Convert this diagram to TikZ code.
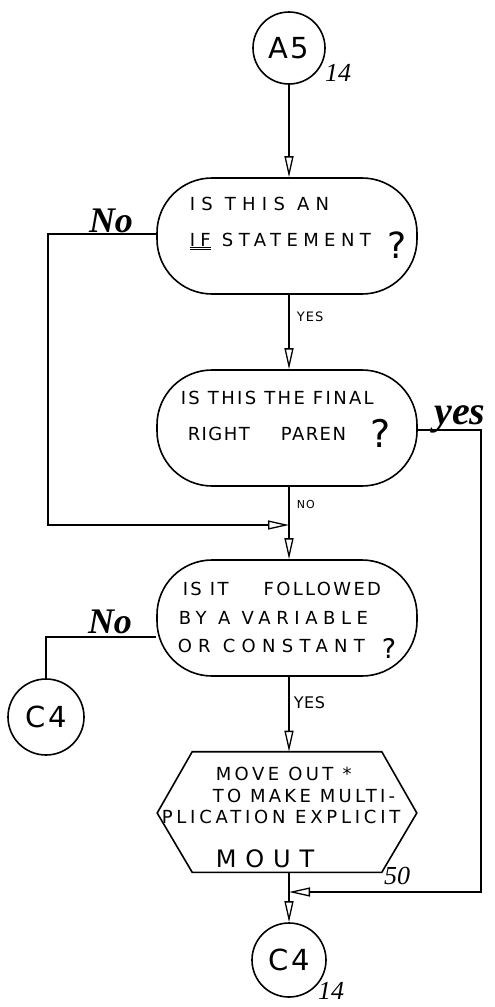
\documentclass[tikz,border=0pt]{standalone}
\usepackage{fontspec}
\setmainfont{DejaVu Sans}
\newfontfamily\hand{Liberation Serif}
\usetikzlibrary{arrows.meta}
\newcommand{\ls}[2]{\fontsize{#1}{#1}\fontspec{DejaVu Sans}[LetterSpace=#2]}
\begin{document}
\begin{tikzpicture}[x=1pt,y=-1pt,line width=1.6pt,
  arr/.style={-{Triangle[open,length=21pt,width=9pt,line width=1.3pt]}},
  circ/.style={circle,draw,inner sep=0pt,font=\ls{29}{8}},
  dec/.style={draw,rounded corners=55pt,minimum width=260pt,minimum height=116pt,inner sep=0pt},
  txt/.style={anchor=base west,inner sep=0pt},
  lbl/.style={anchor=west,inner sep=0pt},
  qm/.style={inner sep=0pt},
  cur/.style={inner sep=0pt,font=\hand\itshape\bfseries\fontsize{36}{38}\selectfont},
  num/.style={inner sep=0pt,font=\hand\itshape\fontsize{26}{28}\selectfont}]
\useasboundingbox (0,0) rectangle (495,1007);

% terminals and boxes
\node[circ,minimum size=72pt] (a5) at (289,48) {A5};
\node[num] (n14a) at (338,73) {14};

\node[dec] (d1) at (287,236) {};
\node[dec] (d2) at (287,428) {};
\node[dec] (d3) at (287,618) {};
\node[draw=none,minimum width=258pt,minimum height=119pt,inner sep=0pt] (hex) at (287,812) {};
\draw ([yshift=-1pt]hex.west) -- ([xshift=35pt]hex.north west) -- ([xshift=-35pt]hex.north east)
  -- ([yshift=-1pt]hex.east) -- ([xshift=-35pt]hex.south east) -- ([xshift=35pt]hex.south west) -- cycle;

\node[circ,minimum size=76pt] (c4l) at (46,717) {C4};
\node[circ,minimum size=74pt] (c4b) at (289,960) {C4};
\node[num] (n14b) at (331,991) {14};
\node[num] (n50) at (397,876) {50};

% texts in decision 1
\node[txt,font=\ls{18}{35}] (t1) at (189,210) {IS THIS AN};
\node[txt,font=\ls{18}{30}] (t2) at (189,246) {\underline{\underline{IF}} STATEMENT};
\node[qm,font=\fontsize{36}{36}\selectfont] (q1) at (397,245) {?};
% decision 2
\node[txt,font=\ls{18}{13}] (t3) at (180,404) {IS THIS THE FINAL};
\node[txt,font=\ls{18}{8}] (t4) at (187,440) {RIGHT\hspace{31pt}PAREN};
\node[qm,font=\fontsize{38}{38}\selectfont] (q2) at (381,433) {?};
% decision 3
\node[txt,font=\ls{18}{13}] (t5) at (182,595) {IS IT\hspace{35pt}FOLLOWED};
\node[txt,font=\ls{18}{31}] (t6) at (178,624) {BY A VARIABLE};
\node[txt,font=\ls{18}{35}] (t7) at (177,652) {OR CONSTANT};
\node[qm,font=\fontsize{27}{27}\selectfont] (q3) at (389,648) {?};
% hexagon
\node[txt,font=\ls{18}{19}] (t8) at (215,780) {MOVE OUT *};
\node[txt,font=\ls{18}{18}] (t9) at (212,802) {TO MAKE MULTI-};
\node[txt,font=\ls{18}{21}] (t10) at (161,823) {PLICATION EXPLICIT};
\node[txt,font=\ls{24}{37}] (t11) at (215,867) {MOUT};

% flow labels
\node[lbl,font=\ls{13}{8}] (y1) at (296,317) {YES};
\node[lbl,font=\ls{11}{10}] (no1) at (296,504) {NO};
\node[lbl,font=\ls{16}{4}] (y2) at (293,703) {YES};
\node[cur] (hno1) at (111,221) {No};
\node[cur] (hno2) at (110,622) {No};
\node[cur,font=\hand\itshape\bfseries\fontsize{40}{42}\selectfont] (hyes) at (460,419) {yes};

% coordinates for connector bends
\coordinate (l1) at (48,234);
\coordinate (l2) at (48,525);
\coordinate (m1) at (289,525);
\coordinate (r1) at (481,430);
\coordinate (r2) at (481,892);
\coordinate (m2) at (289,892);
\coordinate (l3) at (46,637);

% connectors
\draw[arr] (a5) -- (a5 |- d1.north);
\draw[arr] (a5 |- d1.south) -- (a5 |- d2.north);
\draw[arr] (a5 |- d2.south) -- (a5 |- d3.north);
\draw[arr] (a5 |- d3.south) -- (a5 |- hex.north);
\draw[arr] (a5 |- hex.south) -- (c4b);
\draw[arr] (d1.west |- l1) -- (l1) -- (l2) -- (m1);
\draw[arr] (d2.east |- r1) -- (r1) -- (r2) -- (m2);
\draw ([yshift=-19pt]d3.west) -- (l3) -- (c4l);
\end{tikzpicture}
\end{document}
